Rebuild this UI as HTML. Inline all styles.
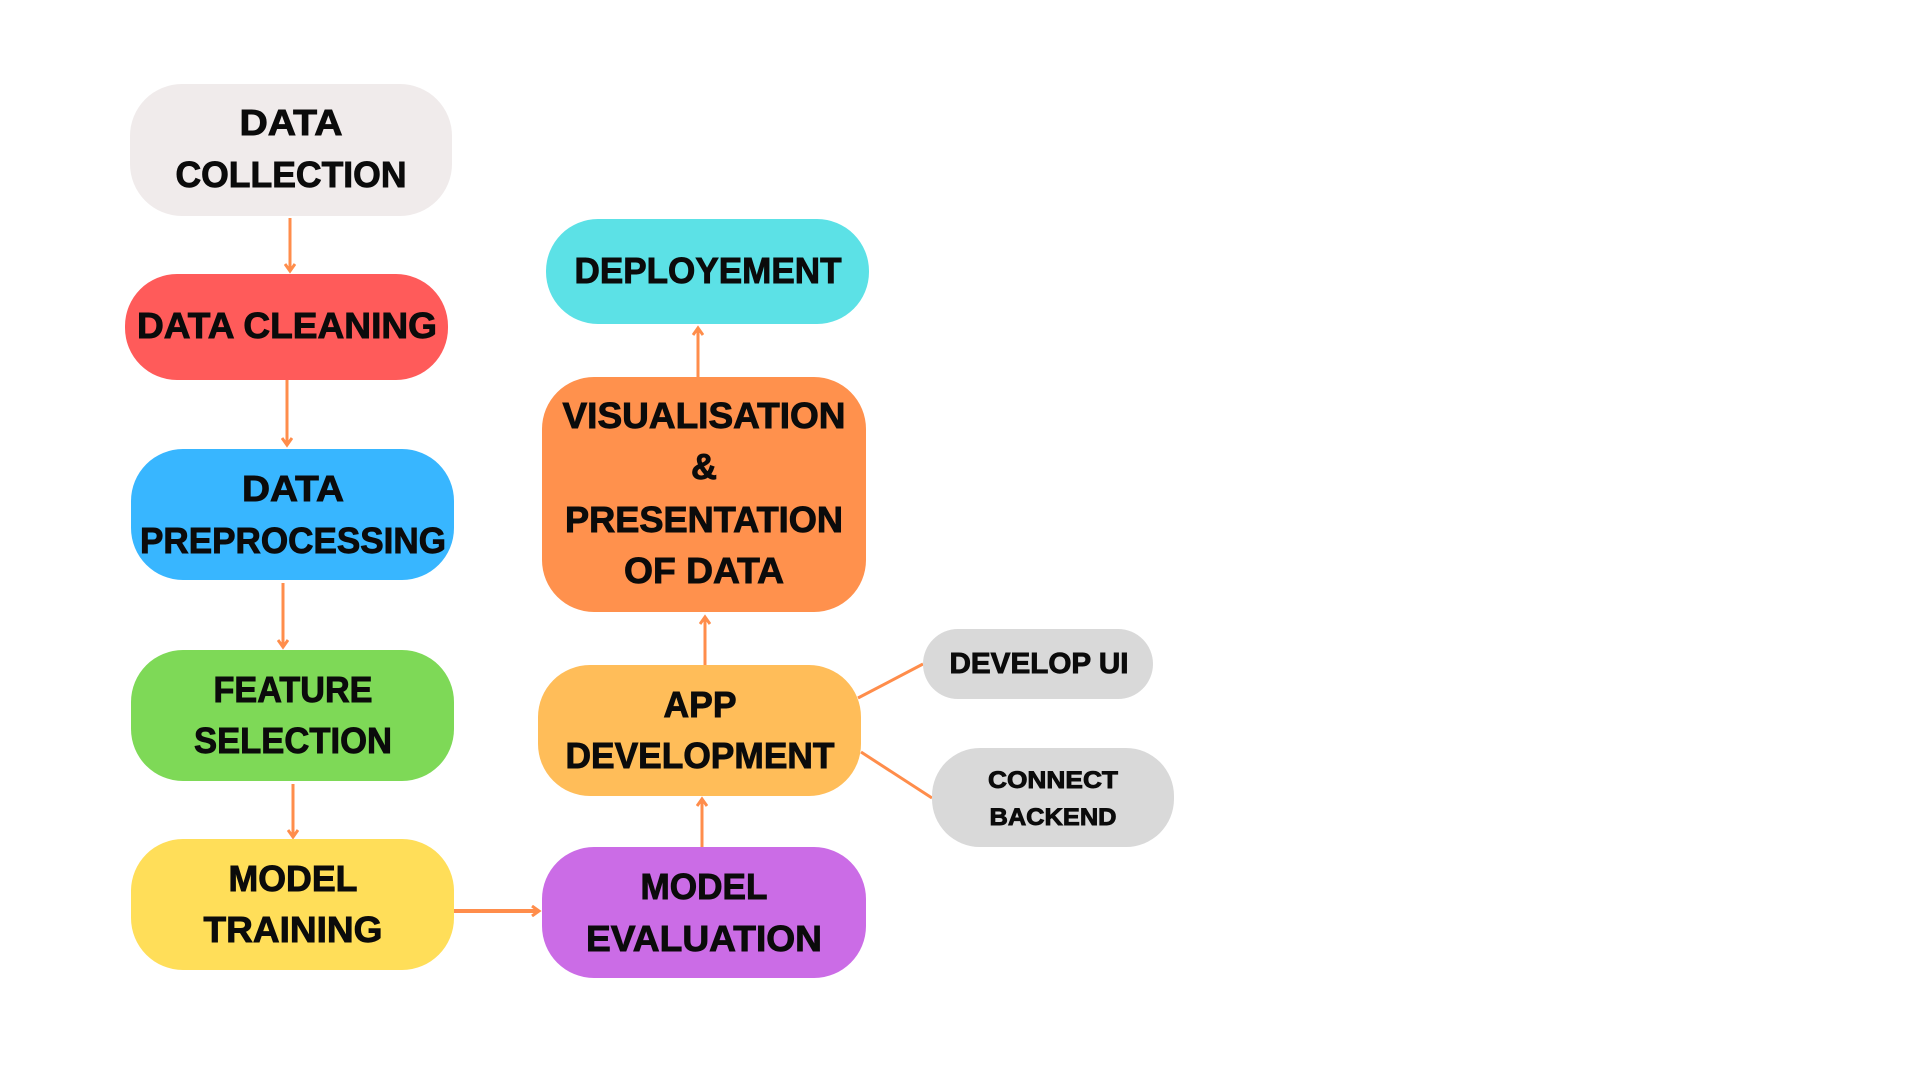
<!DOCTYPE html>
<html><head><meta charset="utf-8"><style>html,body{margin:0;padding:0;background:#fff;}svg{display:block}</style></head>
<body>
<svg width="1920" height="1080" viewBox="0 0 1920 1080" xmlns="http://www.w3.org/2000/svg">
<defs>
<marker id="a" markerWidth="12" markerHeight="12" refX="9" refY="6" orient="auto" markerUnits="userSpaceOnUse">
<path d="M2,1 L9,6 L2,11" fill="none" stroke="#FF8D4B" stroke-width="3"/>
</marker>
</defs>
<g fill="none" stroke="#FF8D4B" stroke-width="3">
<line x1="290" y1="218" x2="290" y2="271" marker-end="url(#a)"/>
<line x1="287" y1="380" x2="287" y2="445" marker-end="url(#a)"/>
<line x1="283" y1="583" x2="283" y2="647" marker-end="url(#a)"/>
<line x1="293" y1="784" x2="293" y2="837" marker-end="url(#a)"/>
<line x1="454" y1="911" x2="539" y2="911" stroke-width="4" marker-end="url(#a)"/>
<line x1="702" y1="847" x2="702" y2="799" marker-end="url(#a)"/>
<line x1="705" y1="665" x2="705" y2="617" marker-end="url(#a)"/>
<line x1="698" y1="377" x2="698" y2="328" marker-end="url(#a)"/>
<line x1="858" y1="698" x2="923" y2="664"/>
<line x1="861" y1="752" x2="932" y2="798"/>
</g>
<rect x="130" y="84" width="322" height="132" rx="52" fill="#F0EBEB"/>
<rect x="125" y="274" width="323" height="106" rx="52" fill="#FF5B5A"/>
<rect x="131" y="449" width="323" height="131" rx="52" fill="#38B6FF"/>
<rect x="131" y="650" width="323" height="131" rx="52" fill="#7ED957"/>
<rect x="131" y="839" width="323" height="131" rx="52" fill="#FFDE59"/>
<rect x="542" y="847" width="324" height="131" rx="52" fill="#CB6CE6"/>
<rect x="538" y="665" width="323" height="131" rx="52" fill="#FFBD59"/>
<rect x="542" y="377" width="324" height="235" rx="52" fill="#FF914D"/>
<rect x="546" y="219" width="323" height="105" rx="52" fill="#5CE1E6"/>
<rect x="923" y="629" width="230" height="70" rx="35" fill="#D9D9D9"/>
<rect x="932" y="748" width="242" height="99" rx="48" fill="#D9D9D9"/>
<g font-family="Liberation Sans, sans-serif" font-weight="bold" font-size="36" fill="#0b0b0b" stroke="#0b0b0b" stroke-width="0.9" transform="translate(0,-2)">
<text x="291" y="137" text-anchor="middle" textLength="103" lengthAdjust="spacingAndGlyphs">DATA</text>
<text x="291" y="189" text-anchor="middle" textLength="231" lengthAdjust="spacingAndGlyphs">COLLECTION</text>
<text x="287" y="340" text-anchor="middle" textLength="300" lengthAdjust="spacingAndGlyphs">DATA CLEANING</text>
<text x="293" y="503" text-anchor="middle" textLength="102" lengthAdjust="spacingAndGlyphs">DATA</text>
<text x="293" y="555" text-anchor="middle" textLength="306" lengthAdjust="spacingAndGlyphs">PREPROCESSING</text>
<text x="293" y="704" text-anchor="middle" textLength="159" lengthAdjust="spacingAndGlyphs">FEATURE</text>
<text x="293" y="755" text-anchor="middle" textLength="198" lengthAdjust="spacingAndGlyphs">SELECTION</text>
<text x="293" y="893" text-anchor="middle" textLength="129" lengthAdjust="spacingAndGlyphs">MODEL</text>
<text x="293" y="944" text-anchor="middle" textLength="179" lengthAdjust="spacingAndGlyphs">TRAINING</text>
<text x="704" y="901" text-anchor="middle" textLength="127" lengthAdjust="spacingAndGlyphs">MODEL</text>
<text x="704" y="953" text-anchor="middle" textLength="236" lengthAdjust="spacingAndGlyphs">EVALUATION</text>
<text x="700" y="719" text-anchor="middle" textLength="73" lengthAdjust="spacingAndGlyphs">APP</text>
<text x="700" y="770" text-anchor="middle" textLength="269" lengthAdjust="spacingAndGlyphs">DEVELOPMENT</text>
<text x="704" y="430" text-anchor="middle" textLength="283" lengthAdjust="spacingAndGlyphs">VISUALISATION</text>
<text x="704" y="481" text-anchor="middle">&amp;</text>
<text x="704" y="534" text-anchor="middle" textLength="278" lengthAdjust="spacingAndGlyphs">PRESENTATION</text>
<text x="704" y="585" text-anchor="middle" textLength="160" lengthAdjust="spacingAndGlyphs">OF DATA</text>
<text x="708" y="285" text-anchor="middle" textLength="267" lengthAdjust="spacingAndGlyphs">DEPLOYEMENT</text>
<text x="1039" y="675" text-anchor="middle" font-size="29" textLength="179" lengthAdjust="spacingAndGlyphs">DEVELOP UI</text>
<text x="1053" y="790" text-anchor="middle" font-size="24" textLength="130" lengthAdjust="spacingAndGlyphs">CONNECT</text>
<text x="1053" y="827" text-anchor="middle" font-size="24" textLength="127" lengthAdjust="spacingAndGlyphs">BACKEND</text>
</g>
</svg>
</body></html>
